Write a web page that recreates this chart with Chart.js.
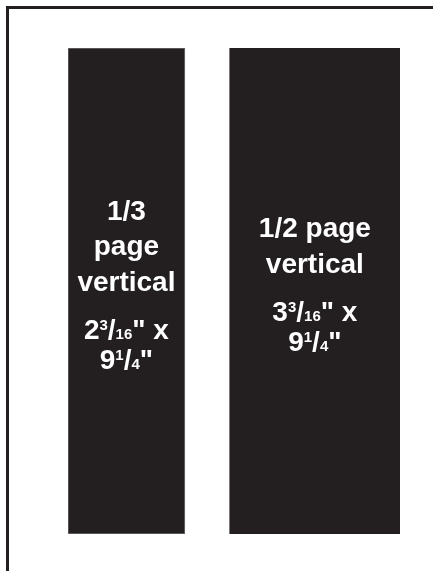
<!DOCTYPE html>
<html>
<head>
<meta charset="utf-8">
<style>
  html, body { margin: 0; padding: 0; background: #ffffff; }
  #wrap { width: 433px; height: 571px; }
</style>
<script src="https://cdn.jsdelivr.net/npm/chart.js@4.4.1/dist/chart.umd.min.js"></script>
</head>
<body>
<div id="wrap"><canvas id="adChart" width="433" height="571"></canvas></div>
<script>
// Ad sizes (inches)
const adNames = [["1/3", "page", "vertical"], ["1/2 page", "vertical"]];
const adWidths = [2.1875, 3.1875];
const adHeights = [9.25, 9.25];
const widthLabels = ["2 3/16", "3 3/16"];
const heightLabels = ["9 1/4", "9 1/4"];
const gapBetween = 0.84; // space between the two ads

document.addEventListener("DOMContentLoaded", function () {
    const ink = "#231f20";
    const pad = { left: 68, right: 33, top: 48, bottom: 37 };
    const areaW = 433 - pad.left - pad.right;
    const xMax = adWidths[0] + gapBetween + adWidths[1];
    const pxPerIn = areaW / xMax;

    // left edge of each ad, then its centre
    const lefts = [0, adWidths[0] + gapBetween];
    const datasets = adWidths.map(function (w, i) {
        return {
            label: adNames[i].join(" "),
            data: [{ x: lefts[i] + w / 2, y: [0, adHeights[i]] }],
            backgroundColor: ink,
            borderColor: i === 0 ? "#6d6b6c" : ink,
            borderWidth: i === 0 ? 1 : 0,
            borderSkipped: false,
            barThickness: w * pxPerIn,
            grouped: false,
        };
    });

    const bold = "'Liberation Sans', Arial, sans-serif";

    // draws "2 3/16" style value with a small raised numerator
    function drawMeasure(ctx, text, suffix, cx, baseline) {
        const parts = text.split(" ");
        const frac = parts[1].split("/");
        const segs = [
            { t: parts[0], f: "bold 28px " + bold, dy: 0 },
            { t: frac[0], f: "bold 15px " + bold, dy: -9 },
            { t: "/", f: "bold 28px " + bold, dy: 0 },
            { t: frac[1], f: "bold 15px " + bold, dy: 0 },
            { t: suffix, f: "bold 28px " + bold, dy: 0 },
        ];
        let total = 0;
        segs.forEach(function (s) {
            ctx.font = s.f;
            s.w = ctx.measureText(s.t).width;
            total += s.w;
        });
        let x = cx - total / 2;
        ctx.textAlign = "left";
        segs.forEach(function (s) {
            ctx.font = s.f;
            ctx.fillText(s.t, x, baseline + s.dy);
            x += s.w;
        });
    }

    const framePlugin = {
        id: "frame",
        beforeDraw: function (chart) {
            const c = chart.ctx;
            c.save();
            c.fillStyle = ink;
            c.fillRect(6, 6, chart.width - 6, 3);
            c.fillRect(6, 6, 3, chart.height - 6);
            c.restore();
        },
    };

    const textPlugin = {
        id: "adText",
        afterDatasetsDraw: function (chart) {
            const c = chart.ctx;
            const area = chart.chartArea;
            const mid = (area.top + area.bottom) / 2 + 3;
            c.save();
            c.fillStyle = "#ffffff";
            c.textBaseline = "alphabetic";
            chart.data.datasets.forEach(function (ds, i) {
                const bar = chart.getDatasetMeta(i).data[0];
                const cx = bar.x;
                const names = adNames[i];
                const span = (names.length - 1) * 35.5 + 48 + 30;
                let y = mid - span / 2;
                c.font = "bold 28px " + bold;
                c.textAlign = "center";
                names.forEach(function (line, k) {
                    c.fillText(line, cx, y);
                    if (k < names.length - 1) y += 35.5;
                });
                y += 48;
                drawMeasure(c, widthLabels[i], "\" x", cx, y);
                y += 30;
                drawMeasure(c, heightLabels[i], "\"", cx, y);
            });
            c.restore();
        },
    };

    new Chart(document.getElementById("adChart").getContext("2d"), {
        type: "bar",
        data: { datasets: datasets },
        options: {
            responsive: false,
            animation: false,
            layout: { padding: pad },
            plugins: {
                legend: { display: false },
                tooltip: { enabled: false },
            },
            scales: {
                x: { type: "linear", min: 0, max: xMax, offset: false, display: false },
                y: { type: "linear", min: 0, max: 9.25, display: false },
            },
        },
        plugins: [framePlugin, textPlugin],
    });
});
</script>
</body>
</html>
